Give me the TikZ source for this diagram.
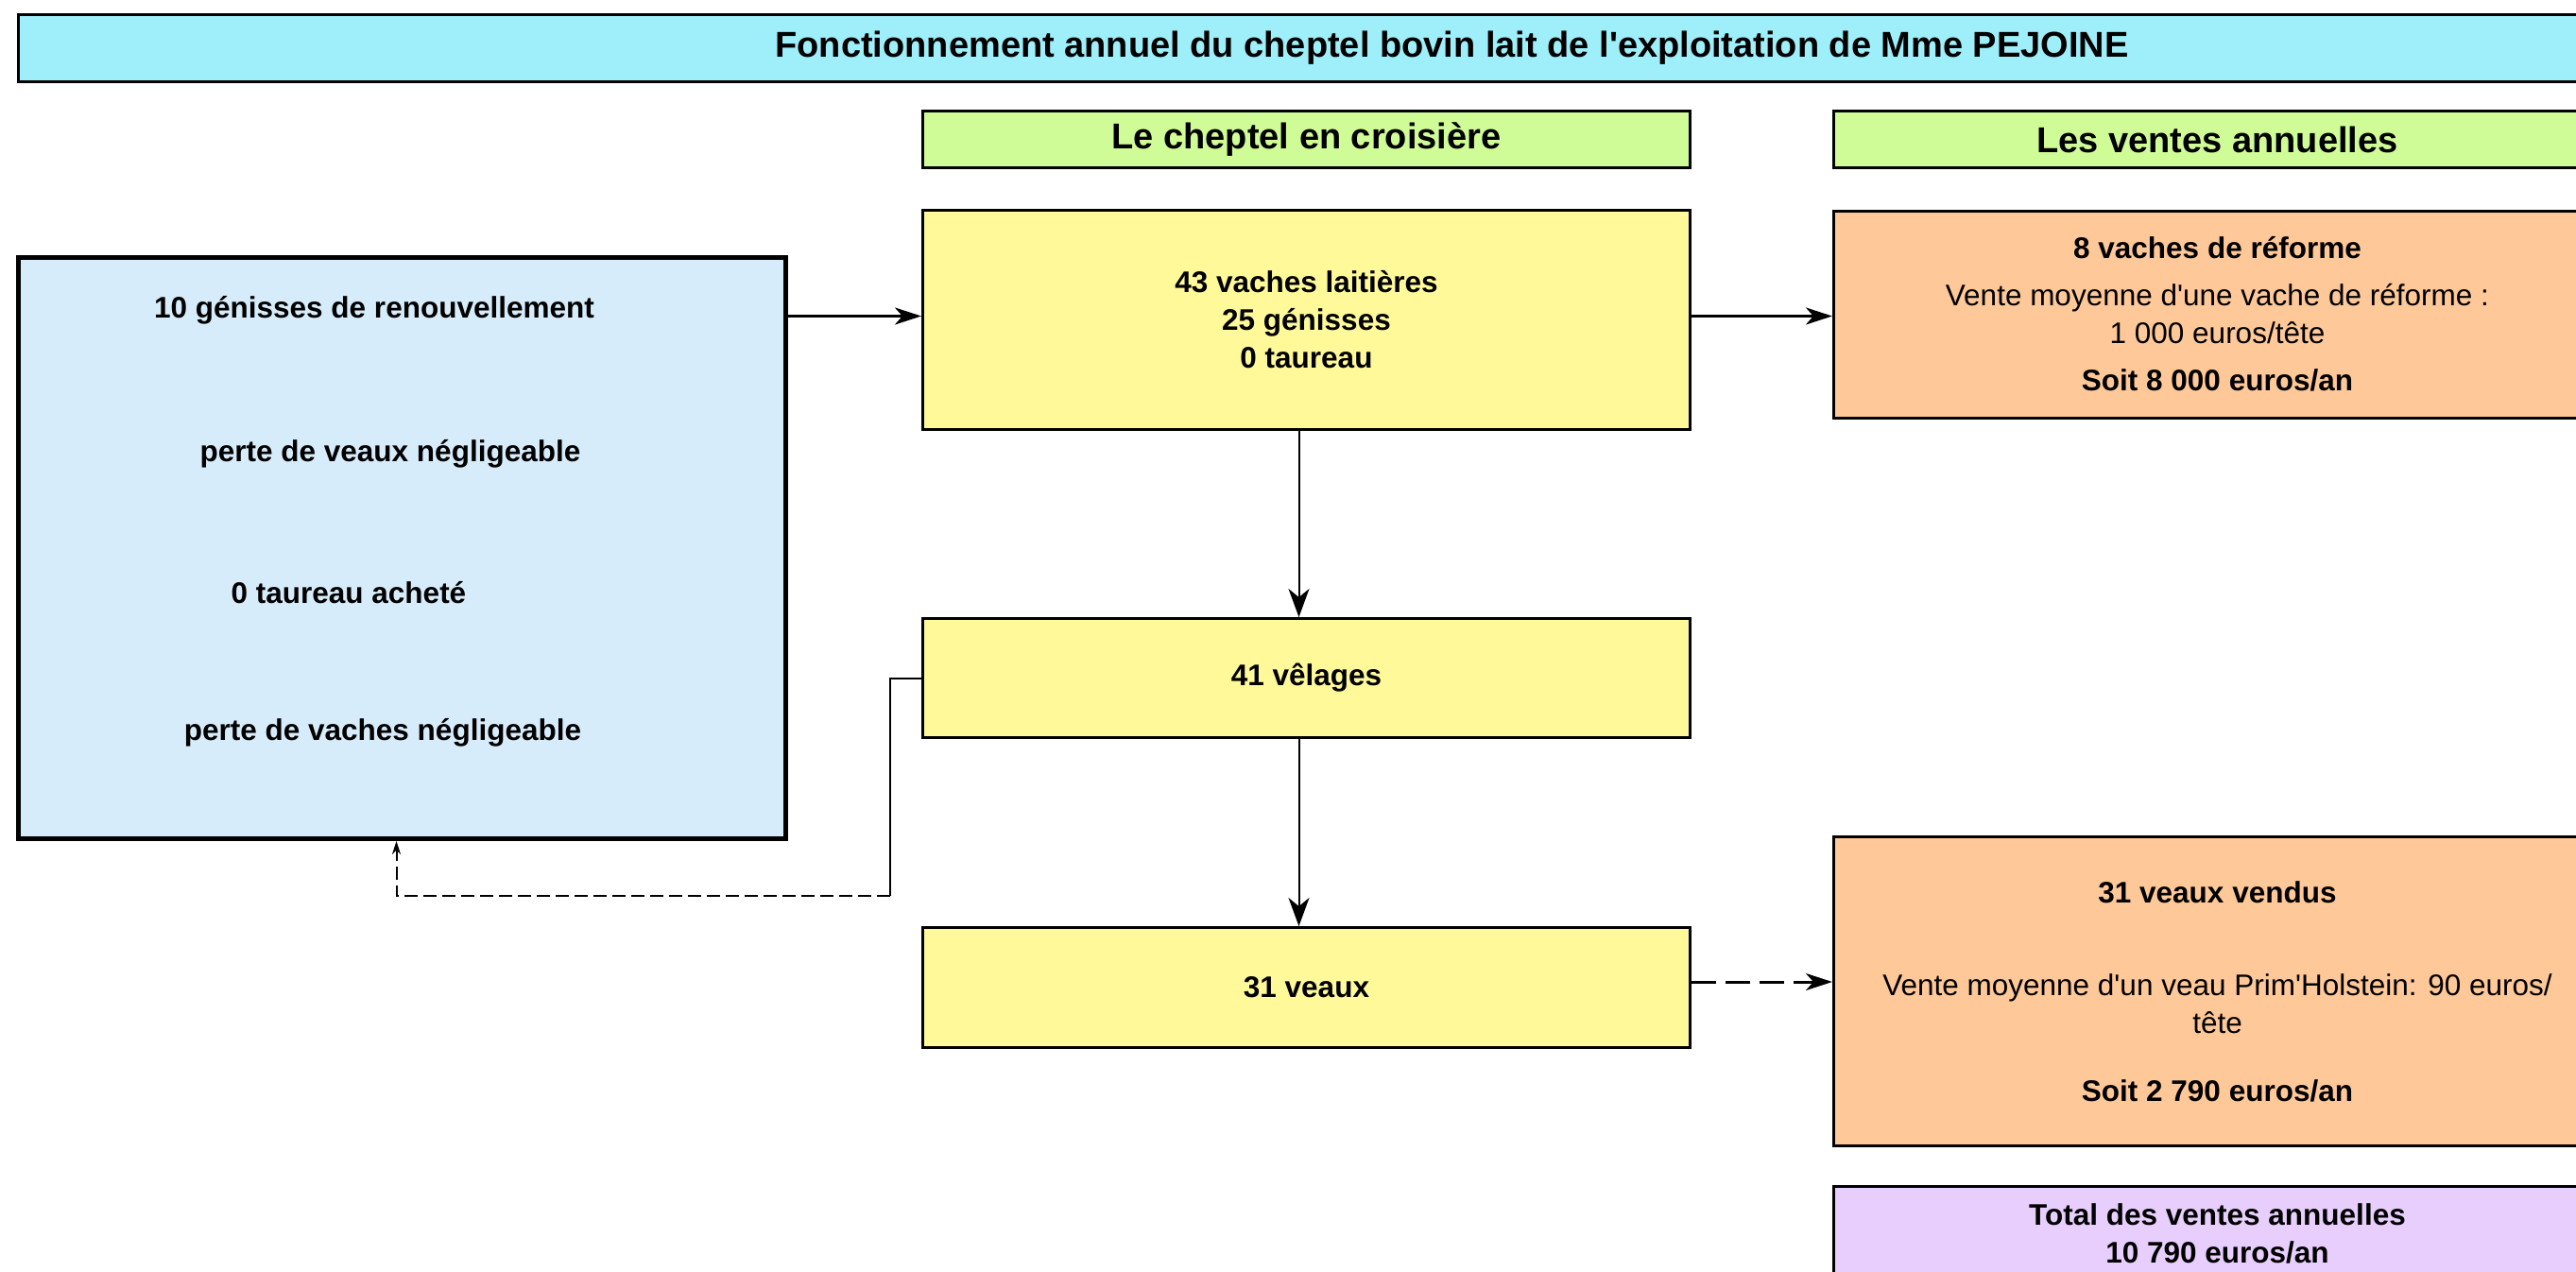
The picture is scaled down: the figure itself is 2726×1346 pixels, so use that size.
\documentclass[tikz,border=0pt]{standalone}
\usepackage{fontspec}
\setmainfont{Liberation Sans}
\usepackage{tikz}
\usetikzlibrary{arrows.meta}
\usetikzlibrary{positioning}
\definecolor{cyanclair}{RGB}{158,239,250}
\definecolor{vertclair}{RGB}{208,252,152}
\definecolor{jaunepale}{RGB}{255,249,154}
\definecolor{bleupale}{RGB}{215,236,250}
\definecolor{saumon}{RGB}{255,200,152}
\definecolor{mauve}{RGB}{232,206,252}
\tikzset{
    boite/.style={
           rectangle,
           draw=black, line width=3pt,
           inner sep=0pt,
           align=center,
           font=\fontsize{31.5}{40}\selectfont\bfseries,
           },
}
\tikzset{
    entete/.style={
           boite,
           fill=vertclair,
           minimum width=812pt, minimum height=60pt,
           font=\fontsize{38}{46}\selectfont\bfseries,
           },
}
\tikzset{
    cheptel/.style={
           boite,
           fill=jaunepale,
           minimum width=812pt,
           },
}
\tikzset{
    vente/.style={
           boite,
           fill=saumon,
           minimum width=812pt,
           },
}
\tikzset{
    texte/.style={
           inner sep=0pt,
           font=\fontsize{31.5}{40}\selectfont\bfseries,
           },
}
\tikzset{
    fleche/.style={
           line width=3pt,
           -{Stealth[length=28pt,width=18pt,inset=8pt]},
           },
}
\tikzset{
    descente/.style={
           line width=2pt,
           -{Stealth[length=30pt,width=22pt,inset=9pt]},
           },
}

\begin{document}
\begin{tikzpicture}[x=1pt,y=-1pt]
\useasboundingbox (0,0) rectangle (2726,1346);
\clip (0,0) rectangle (2726,1346);
\node[entete,fill=cyanclair,minimum width=3034pt,minimum height=71pt,anchor=north west](titre) at (18,14){Fonctionnement annuel du cheptel bovin lait de l\textquotesingle exploitation de Mme PEJOINE};
\node[entete,anchor=north west](entete1) at (975,116){Le cheptel en croisière};
\node[entete,right=149pt of entete1](entete2){Les ventes annuelles};
\node[cheptel,minimum height=232pt,anchor=north west](troupeau) at (975,221){43 vaches laitières\\25 génisses\\0 taureau};
\node[cheptel,minimum height=126pt,below=197pt of troupeau](velages){41 vêlages};
\node[cheptel,minimum height=127pt,below=198pt of velages](veaux){31 veaux};
\node[vente,minimum height=219pt,right=149pt of troupeau,yshift=6pt](reforme){8 vaches de réforme\\[10pt]{\mdseries Vente moyenne d\textquotesingle une vache de réforme :}\\{\mdseries 1 000 euros/tête}\\[10pt]Soit 8 000 euros/an};
\node[vente,minimum height=327pt,right=149pt of veaux,yshift=-4pt](ventesveaux){31 veaux vendus\\[58pt]{\mdseries Vente moyenne d\textquotesingle un veau Prim\textquotesingle Holstein: 90 euros/}\\{\mdseries tête}\\[32pt]Soit 2 790 euros/an};
\node[vente,fill=mauve,minimum height=100pt,below=40pt of ventesveaux](total){Total des ventes annuelles\\10 790 euros/an};
\node[boite,fill=bleupale,line width=5pt,minimum width=812pt,minimum height=615pt,anchor=north west](achats) at (17,270){};
\node[texte](renouv) at (396,328){10 génisses de renouvellement};
\node[texte](perteveaux) at (413,480){perte de veaux négligeable};
\node[texte](taureau) at (369,627){0 taureau acheté};
\node[texte](pertevaches) at (405,775){perte de vaches négligeable};
\coordinate (coude) at (942,948);

\draw[fleche] ([yshift=4pt]achats.east |- troupeau.west) -- ([yshift=4pt]troupeau.west);
\draw[fleche] ([yshift=4pt]troupeau.east) -- ([yshift=4pt]troupeau.east -| reforme.west);
\draw[descente] ([xshift=-8pt]troupeau.south) -- ([xshift=-8pt]velages.north);
\draw[descente] ([xshift=-8pt]velages.south) -- ([xshift=-8pt]veaux.north);
\draw[fleche,dash pattern=on 26pt off 10pt] ([yshift=6pt]veaux.east) -- ([yshift=6pt]veaux.east -| ventesveaux.west);
\draw[line width=2pt] (velages.west) -| (coude);
\draw[line width=2pt,dash pattern=on 14pt off 6pt,-{Stealth[length=14pt,width=9pt]}] (coude) -| ([xshift=-6pt]achats.south);
\end{tikzpicture}
\end{document}
